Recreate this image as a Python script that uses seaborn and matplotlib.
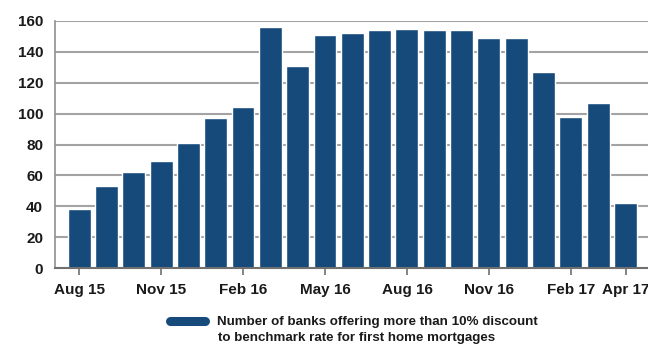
import matplotlib
matplotlib.use("Agg")
import matplotlib.pyplot as plt
from matplotlib.lines import Line2D
import seaborn as sns
import pandas as pd

months = ["Aug 15", "Sep 15", "Oct 15", "Nov 15", "Dec 15", "Jan 16", "Feb 16",
          "Mar 16", "Apr 16", "May 16", "Jun 16", "Jul 16", "Aug 16", "Sep 16",
          "Oct 16", "Nov 16", "Dec 16", "Jan 17", "Feb 17", "Mar 17", "Apr 17"]
banks = [38, 53, 62, 69, 81, 97, 104, 156, 131, 151, 152, 154, 155, 154,
         154, 149, 149, 127, 98, 107, 42]
tick_labels = ["Aug 15", "Nov 15", "Feb 16", "May 16", "Aug 16", "Nov 16", "Feb 17", "Apr 17"]
series_label_1 = "Number of banks offering more than 10% discount"
series_label_2 = "to benchmark rate for first home mortgages"

sns.set_theme(style="white")
plt.rcParams["font.family"] = ["Liberation Sans", "DejaVu Sans"]
plt.rcParams["font.weight"] = "bold"

bar_color = "#164a7b"
text_color = "#1a1a1a"
df = pd.DataFrame({"month": months, "banks": banks})

fig = plt.figure(figsize=(6.48, 3.45), dpi=100)
ax = fig.add_axes([55 / 648, 1 - 268 / 345, (648 - 55) / 648, 247 / 345])

sns.barplot(data=df, x="month", y="banks", color=bar_color, saturation=1,
            width=0.84, ax=ax, zorder=3)

ax.set_ylim(0, 160)
ax.set_xlim(-0.88, len(months) - 1 + 0.82)
ax.set_yticks(range(0, 161, 20))
ax.set_yticklabels([str(v) for v in range(0, 161, 20)], fontsize=11, fontweight="bold", color=text_color)
tick_pos = [months.index(m) for m in tick_labels]
ax.set_xticks(tick_pos)
ax.set_xticklabels(tick_labels, fontsize=11, fontweight="bold", color=text_color)
ax.set_xlabel("")
ax.set_ylabel("")

for v in range(20, 161, 20):
    ax.axhline(v, color="#a3a3a3", lw=1.5, zorder=1)

for s in ["top", "right"]:
    ax.spines[s].set_visible(False)
ax.spines["left"].set_color("#909090")
ax.spines["left"].set_linewidth(1.2)
ax.spines["bottom"].set_color("#707070")
ax.spines["bottom"].set_linewidth(1.5)
ax.spines["bottom"].set_zorder(4)

ax.tick_params(axis="x", bottom=True, length=5, width=1.2, color="#707070", pad=6, direction="out")
ax.tick_params(axis="y", left=False, length=0, pad=8.5)

handle = Line2D([0], [0], color=bar_color, lw=6.5, solid_capstyle="round")
fig.legend([handle], [series_label_1], loc="upper left",
           bbox_to_anchor=(170 / 648, 1 - 316 / 345), frameon=False,
           handlelength=2.66, handletextpad=0.9, borderpad=0, borderaxespad=0,
           prop={"size": 9.6, "weight": "bold"}, labelcolor=text_color)
fig.text(218 / 648, 1 - 337.5 / 345, series_label_2, ha="left", va="center",
         fontsize=9.6, fontweight="bold", color=text_color)

fig.savefig("out.png", dpi=100)
